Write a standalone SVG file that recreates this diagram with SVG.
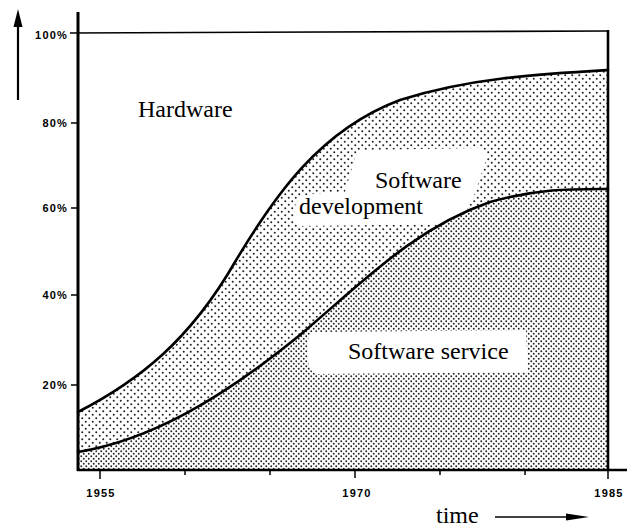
<svg xmlns="http://www.w3.org/2000/svg" width="639" height="528" viewBox="0 0 639 528">
<defs>
<pattern id="dotsDev" width="7" height="7" patternUnits="userSpaceOnUse">
<circle cx="1.75" cy="1.75" r="1" fill="#222"/>
<circle cx="5.25" cy="5.25" r="1" fill="#222"/>
</pattern>
<pattern id="dotsSvc" width="5" height="5" patternUnits="userSpaceOnUse">
<circle cx="1.25" cy="1.25" r="0.95" fill="#222"/>
<circle cx="3.75" cy="3.75" r="0.95" fill="#222"/>
</pattern>
<style>
.lbl{font-family:"Liberation Serif","Times New Roman",serif;font-size:24px;fill:#000}
.ax{font-family:"Liberation Sans",Arial,sans-serif;font-size:11px;font-weight:bold;fill:#000;letter-spacing:1.2px}
.curve{fill:none;stroke:#000;stroke-width:2.6;stroke-linecap:round}
.axis{stroke:#000;fill:none}
.tick{stroke:#000;stroke-width:1.5}
</style>
</defs>
<rect width="639" height="528" fill="#fff"/>

<g id="hardware">
<text class="lbl" x="138" y="117">Hardware</text>
</g>

<g id="software-development">
<path d="M78,412 C140,380 190,340 235,262 C275,195 320,130 400,100 C470,78 540,74 608,70 L608,189 C575,189 540,188 490,202 C415,228 365,280 300,335 C220,400 150,440 78,452 Z" fill="url(#dotsDev)"/>
<path d="M356,154 Q360,150 370,150 L478,148 Q488,150 486,160 L474,196 Q468,210 458,224 L300,226 Q294,225 294,218 L296,200 Q300,193 345,192 Z" fill="#fff"/>
<text class="lbl" x="375" y="188">Software</text>
<text class="lbl" x="299" y="214">development</text>
</g>

<g id="software-service">
<path d="M78,452 C150,440 220,400 300,335 C365,280 415,228 490,202 C540,188 575,189 608,189 L608,470 L78,470 Z" fill="url(#dotsSvc)"/>
<path d="M312,332 L526,330 L528,372 L316,374 Q308,370 308,360 L308,342 Q308,334 312,332 Z" fill="#fff"/>
<text class="lbl" x="348" y="359">Software service</text>
</g>

<g id="connectors">
<path class="curve" d="M78,412 C140,380 190,340 235,262 C275,195 320,130 400,100 C470,78 540,74 608,70"/>
<path class="curve" d="M78,452 C150,440 220,400 300,335 C365,280 415,228 490,202 C540,188 575,189 608,189"/>
<line x1="18" y1="100" x2="18" y2="22" stroke="#000" stroke-width="2.2"/>
<path d="M18,9 L22.5,27 L13.5,27 Z" fill="#000"/>
<line x1="495" y1="517" x2="572" y2="517" stroke="#000" stroke-width="1.6"/>
<path d="M566,513.5 L589,517 L566,520.5 Z" fill="#000"/>
</g>

<g id="axes">
<line class="axis" x1="78" y1="12" x2="78" y2="471" stroke-width="3"/>
<line class="axis" x1="70" y1="33" x2="609" y2="31" stroke-width="1.6"/>
<line class="axis" x1="608" y1="30" x2="608" y2="471" stroke-width="2.6"/>
<line class="axis" x1="77" y1="470" x2="627" y2="470" stroke-width="2.4"/>
<line class="tick" x1="71" y1="123" x2="78" y2="123"/>
<line class="tick" x1="71" y1="208" x2="78" y2="208"/>
<line class="tick" x1="71" y1="295" x2="78" y2="295"/>
<line class="tick" x1="71" y1="385" x2="78" y2="385"/>
<line class="tick" x1="100" y1="470" x2="100" y2="479"/>
<line class="tick" x1="185" y1="470" x2="185" y2="475"/>
<line class="tick" x1="270" y1="470" x2="270" y2="475"/>
<line class="tick" x1="355" y1="470" x2="355" y2="478"/>
<line class="tick" x1="440" y1="470" x2="440" y2="475"/>
<line class="tick" x1="525" y1="470" x2="525" y2="475"/>
<line class="tick" x1="608" y1="466" x2="608" y2="479"/>
<text class="ax" x="68" y="39" text-anchor="end">100%</text>
<text class="ax" x="68" y="127" text-anchor="end">80%</text>
<text class="ax" x="68" y="212" text-anchor="end">60%</text>
<text class="ax" x="68" y="299" text-anchor="end">40%</text>
<text class="ax" x="68" y="389" text-anchor="end">20%</text>
<text class="ax" x="101" y="497" text-anchor="middle">1955</text>
<text class="ax" x="357" y="497" text-anchor="middle">1970</text>
<text class="ax" x="609" y="497" text-anchor="middle">1985</text>
<text class="lbl" x="436" y="523">time</text>
</g>
</svg>
